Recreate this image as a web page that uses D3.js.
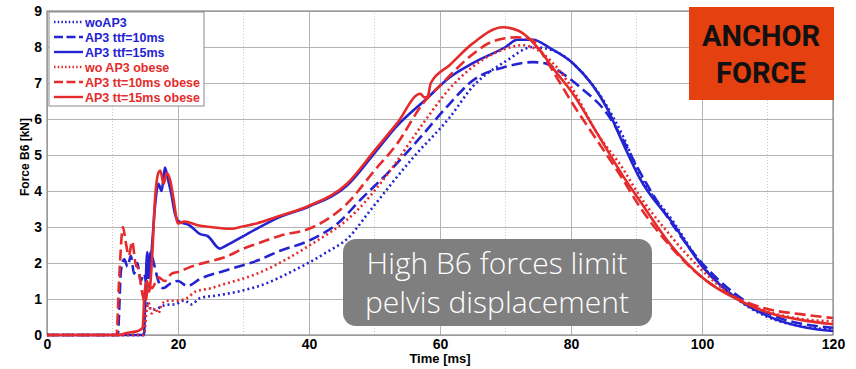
<!DOCTYPE html>
<html>
<head>
<meta charset="utf-8">
<script src="https://cdn.jsdelivr.net/npm/d3@7"></script>
<style>
  body { margin: 0; background: #fff; }
  svg { display: block; }
</style>
</head>
<body>
<svg id="chart"></svg>
<script>
var svg_width = 856
var svg_height = 369

// [time ms, force kN]
var woAP3 = [[0,0],[14.8,0],[15.2,0.9],[15.7,0.75],[16.5,0.7],[17.5,0.8],[18.3,0.84],[19.5,0.85],[21,0.96],[22,0.85],[23.4,1.03],[26,1.1],[29.5,1.22],[33,1.4],[37,1.73],[42.7,2.3],[46,2.7],[49.3,3.45],[55.9,4.93],[61.5,6.05],[65,6.9],[70,7.6],[74.2,8.0],[77.3,7.9],[81.4,7.35],[85,6.5],[88,5.5],[90.5,4.45],[95.6,3.15],[100,1.95],[105,1.05],[110,0.5],[115,0.25],[120,0.15]];
var ap3ttf10 = [[0,0],[10.8,0],[11.3,1.8],[11.8,2.1],[12.3,1.9],[12.8,2.2],[13.3,1.7],[13.8,2.0],[14.3,1.5],[14.8,1.7],[15.3,1.4],[15.8,2.3],[16.3,2.0],[17,1.5],[17.7,1.3],[19,1.45],[20,1.5],[21.4,1.36],[23.4,1.56],[27,1.78],[32,2.06],[35.6,2.34],[40,2.62],[45,3.2],[47.3,3.65],[52.4,4.57],[57,5.49],[61.5,6.43],[65,7.07],[70,7.45],[74.2,7.58],[76,7.55],[78,7.35],[81.4,6.88],[85.5,6.15],[88,5.4],[90,4.7],[95,3.2],[100,2.0],[105,1.15],[110,0.6],[115,0.32],[120,0.2]];
var ap3ttf15 = [[0,0],[14.8,0],[15.0,1.0],[15.3,2.3],[15.6,1.6],[16,2.4],[16.5,3.6],[17,4.2],[17.5,4.0],[18,4.65],[18.5,4.3],[19,3.9],[19.5,3.4],[20,3.17],[21.8,3.04],[23.4,2.8],[24.5,2.75],[26.4,2.4],[27,2.45],[29.5,2.7],[32,2.95],[35.6,3.28],[40,3.57],[45.8,4.15],[50,5.05],[53.4,5.8],[58,6.57],[61.5,7.16],[65,7.55],[70,8.0],[71.8,8.2],[74.2,8.2],[76.8,7.97],[80.3,7.55],[85.5,6.3],[88,5.3],[90.5,4.35],[95.6,3.09],[100.2,1.87],[105.8,0.95],[110.8,0.47],[116,0.2],[120,0.11]];
var woAP3obese = [[0,0],[14.8,0],[15.1,0.5],[15.5,0.9],[16,0.6],[16.5,0.75],[17,0.6],[17.5,0.85],[18.3,0.95],[19.5,0.95],[21.4,1.03],[22.6,1.2],[25,1.3],[27,1.41],[32,1.7],[37,2.15],[40,2.48],[47.3,3.45],[52.4,4.57],[57,5.77],[61.5,6.85],[65,7.45],[70,7.95],[72.5,8.05],[74,8.0],[77,7.6],[80,6.9],[84,5.6],[88,4.6],[90,4.0],[95,2.8],[100,1.8],[105,1.05],[110,0.65],[115,0.45],[120,0.38]];
var ap3tt10obese = [[0,0],[10.6,0],[11.0,1.5],[11.6,3.0],[12.0,2.6],[12.5,2.2],[13,2.6],[13.5,2.0],[14,1.8],[14.5,1.2],[15,0.9],[15.5,1.4],[16,1.3],[17,1.6],[18,1.5],[19,1.7],[20,1.75],[22,1.9],[25,2.05],[27,2.15],[30,2.4],[32,2.53],[35.6,2.76],[40,2.95],[45.8,3.65],[50,4.57],[53.4,5.3],[57.4,6.43],[60.5,7.02],[65,7.8],[68,8.15],[71.8,8.27],[74,8.2],[76,7.7],[78,7.1],[80,6.5],[84,5.4],[88,4.3],[90,3.7],[95,2.5],[100,1.6],[105,1.05],[110,0.72],[115,0.58],[120,0.47]];
var ap3tt15obese = [[0,0],[11,0],[12,0.05],[14,0.12],[14.6,0.2],[14.9,1.2],[15.3,1.5],[15.6,1.2],[16,2.0],[16.5,3.8],[17,4.5],[17.3,4.57],[17.8,4.2],[18.3,4.5],[18.8,4.3],[19.3,3.8],[20,3.1],[21,3.15],[23,3.05],[25,3.0],[28,2.95],[30,3.02],[32,3.1],[35.6,3.31],[40,3.59],[45.8,4.2],[50,5.12],[53.4,5.87],[57,6.7],[57.6,6.6],[58.1,6.62],[58.6,7.0],[61.5,7.5],[65,8.1],[69.6,8.55],[72,8.45],[75.3,7.9],[77.3,7.4],[80.3,6.7],[84,5.6],[88,4.4],[90.5,3.73],[95.6,2.42],[100.7,1.5],[105.8,0.95],[110.8,0.58],[115,0.42],[120,0.3]];

var seriesNames = ["woAP3", "AP3 ttf=10ms", "AP3 ttf=15ms", "wo AP3 obese", "AP3 tt=10ms obese", "AP3 tt=15ms obese"];
var seriesData = [woAP3, ap3ttf10, ap3ttf15, woAP3obese, ap3tt10obese, ap3tt15obese];
var seriesColors = ["#2323d2", "#2323d2", "#2323d2", "#e52b2b", "#e52b2b", "#e52b2b"];
var seriesDash = ["2,3", "11,5", null, "2,3", "11,5", null];

var xTicks = [0, 20, 40, 60, 80, 100, 120];
var yTicks = [0, 1, 2, 3, 4, 5, 6, 7, 8, 9];

var svg = d3.select("#chart")
    .attr("width", svg_width)
    .attr("height", svg_height);

var xScale = d3.scaleLinear().domain([0, 120]).range([47, 833]);
var yScale = d3.scaleLinear().domain([0, 9]).range([335, 11]);

// minor vertical grid (dotted)
svg.append("g")
  .selectAll("line")
  .data(d3.range(10, 120, 20))
  .enter()
  .append("line")
    .attr("x1", function(d) { return xScale(d); })
    .attr("x2", function(d) { return xScale(d); })
    .attr("y1", yScale(0))
    .attr("y2", yScale(9))
    .attr("stroke", "#c8c8c8")
    .attr("stroke-dasharray", "1,2");

// major grid
var xGrid = d3.axisBottom(xScale)
              .tickValues(xTicks)
              .tickSize(-(yScale(0) - yScale(9)))
              .tickFormat("");
var yGrid = d3.axisLeft(yScale)
              .tickValues(yTicks)
              .tickSize(-(xScale(120) - xScale(0)))
              .tickFormat("");

svg.append("g")
    .attr("class", "grid")
    .attr("transform", "translate(0," + yScale(0) + ")")
    .call(xGrid);
svg.append("g")
    .attr("class", "grid")
    .attr("transform", "translate(" + xScale(0) + ",0)")
    .call(yGrid);
svg.selectAll(".grid .domain").remove();
svg.selectAll(".grid line").attr("stroke", "#b4b4b4").attr("stroke-width", 1);

// frame
svg.append("rect")
    .attr("x", xScale(0))
    .attr("y", yScale(9))
    .attr("width", xScale(120) - xScale(0))
    .attr("height", yScale(0) - yScale(9))
    .attr("fill", "none")
    .attr("stroke", "#8a8a8a")
    .attr("stroke-width", 1.2);

// axes labels
var xAxis = d3.axisBottom(xScale).tickValues(xTicks).tickSize(0).tickPadding(4);
var yAxis = d3.axisLeft(yScale).tickValues(yTicks).tickSize(0).tickPadding(5);

var gx = svg.append("g")
    .attr("transform", "translate(0," + yScale(0) + ")")
    .call(xAxis);
var gy = svg.append("g")
    .attr("transform", "translate(" + xScale(0) + ",0)")
    .call(yAxis);
gx.select(".domain").remove();
gy.select(".domain").remove();
svg.selectAll(".tick text")
    .attr("font-family", "Liberation Sans, Arial, sans-serif")
    .attr("font-weight", "bold")
    .attr("font-size", 14)
    .attr("fill", "#000");

// lines
var line = d3.line()
    .curve(d3.curveMonotoneX)
    .x(function(d) { return xScale(d[0]); })
    .y(function(d) { return yScale(d[1]); });

svg.append("g")
  .selectAll("path")
  .data(seriesData)
  .enter()
  .append("path")
    .attr("d", line)
    .attr("fill", "none")
    .attr("stroke", function(d, i) { return seriesColors[i]; })
    .attr("stroke-width", 2.6)
    .attr("stroke-dasharray", function(d, i) { return seriesDash[i]; })
    .attr("stroke-linejoin", "round");

// axis titles
svg.append("text")
    .attr("x", 440)
    .attr("y", 363)
    .attr("text-anchor", "middle")
    .attr("font-family", "Liberation Sans, Arial, sans-serif")
    .attr("font-weight", "bold")
    .attr("font-size", 13)
    .text("Time [ms]");

svg.append("text")
    .attr("transform", "translate(29,157) rotate(-90)")
    .attr("text-anchor", "middle")
    .attr("font-family", "Liberation Sans, Arial, sans-serif")
    .attr("font-weight", "bold")
    .attr("font-size", 12)
    .text("Force B6 [kN]");

// legend
var legend = svg.append("g");
legend.append("rect")
    .attr("x", 49)
    .attr("y", 12)
    .attr("width", 155)
    .attr("height", 94)
    .attr("fill", "#fff")
    .attr("stroke", "#8a8a8a");

var rows = legend.selectAll("g.row")
    .data(seriesNames)
    .enter()
    .append("g")
      .attr("class", "row")
      .attr("transform", function(d, i) { return "translate(0," + (22 + i * 15) + ")"; });

rows.append("line")
    .attr("x1", 54)
    .attr("x2", 83)
    .attr("stroke", function(d, i) { return seriesColors[i]; })
    .attr("stroke-width", 2.4)
    .attr("stroke-dasharray", function(d, i) { return seriesDash[i] ? (i % 3 === 0 ? "1.5,2.2" : "9,3.5") : null; });

rows.append("text")
    .attr("x", 85)
    .attr("dy", "0.36em")
    .attr("font-family", "Liberation Sans, Arial, sans-serif")
    .attr("font-weight", "bold")
    .attr("font-size", 12.5)
    .attr("fill", function(d, i) { return seriesColors[i]; })
    .text(function(d) { return d; });

// ANCHOR FORCE box
svg.append("rect")
    .attr("x", 689)
    .attr("y", 7)
    .attr("width", 145)
    .attr("height", 93)
    .attr("fill", "#e5400f");

svg.append("text")
    .attr("x", 761)
    .attr("y", 46)
    .attr("text-anchor", "middle")
    .attr("font-family", "Roboto, sans-serif")
    .attr("font-weight", "bold")
    .attr("font-size", 29)
    .attr("fill", "#111")
    .text("ANCHOR");

svg.append("text")
    .attr("x", 761)
    .attr("y", 83)
    .attr("text-anchor", "middle")
    .attr("font-family", "Roboto, sans-serif")
    .attr("font-weight", "bold")
    .attr("font-size", 29)
    .attr("fill", "#111")
    .text("FORCE");

// annotation box
svg.append("rect")
    .attr("x", 343)
    .attr("y", 239)
    .attr("width", 309)
    .attr("height", 87)
    .attr("rx", 13)
    .attr("fill", "#7f7f7f");

svg.append("text")
    .attr("x", 497)
    .attr("y", 274)
    .attr("text-anchor", "middle")
    .attr("font-family", "Open Sans, sans-serif")
    .attr("font-weight", 300)
    .attr("font-size", 30)
    .attr("fill", "#fff")
    .text("High B6 forces limit");

svg.append("text")
    .attr("x", 497)
    .attr("y", 313)
    .attr("text-anchor", "middle")
    .attr("font-family", "Open Sans, sans-serif")
    .attr("font-weight", 300)
    .attr("font-size", 30)
    .attr("fill", "#fff")
    .text("pelvis displacement");
</script>
</body>
</html>
